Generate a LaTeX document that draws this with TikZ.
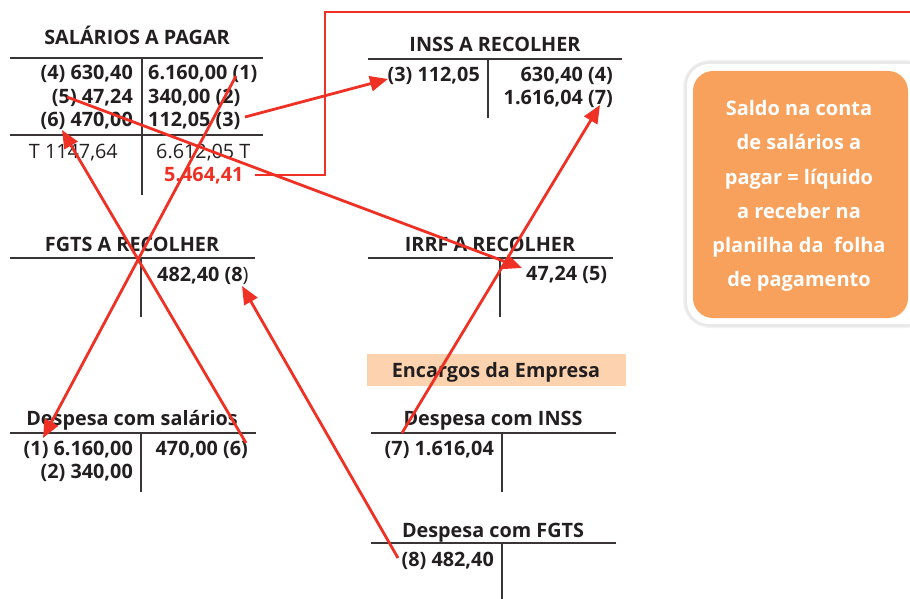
\documentclass[tikz,border=0pt]{standalone}
\usepackage{fontspec}
\setmainfont{Open Sans}
\usetikzlibrary{arrows.meta}
\definecolor{myred}{HTML}{EE3124}
\definecolor{ink}{HTML}{231F20}
\definecolor{orangebox}{HTML}{F7A15C}
\definecolor{peach}{HTML}{FCD3AE}
\begin{document}
\begin{tikzpicture}[x=1pt,y=-1pt,
  tline/.style={draw=ink!90,line width=1.5pt},
  txt/.style={font=\bfseries\fontsize{19.8}{22}\selectfont,text=ink,inner sep=0pt},
  ttl/.style={txt,anchor=base},
  lft/.style={txt,anchor=base east},
  rgt/.style={txt,anchor=base west},
  redline/.style={draw=myred,line width=2.8pt},
  redarrow/.style={redline,-{Triangle[length=18pt,width=15pt]}},
  boxtxt/.style={font=\bfseries\fontsize{20}{34.2}\selectfont,text=white,align=center,inner sep=0pt}
]
\useasboundingbox (0,0) rectangle (910,599);

% ---------- SALARIOS A PAGAR
\node[ttl] (t1) at (137,45) {SALÁRIOS A PAGAR};
\draw[tline] (10,58) -- (263,58);
\draw[tline] (10,135) -- (263,135);
\draw[tline] (142,58) -- (142,195);
\node[lft] (s4) at (133,80) {(4) 630,40};
\node[lft] (s5) at (133,104) {(5) 47,24};
\node[lft] (s6) at (133,127) {(6) 470,00};
\node[rgt] (s1) at (148,80) {6.160,00 (1)};
\node[rgt] (s2) at (148,104) {340,00 (2)};
\node[rgt] (s3) at (148,127) {112,05 (3)};
\node[txt,font=\fontsize{19.8}{22}\selectfont,anchor=base east] (sT1) at (118,158) {T 1147,64};
\node[txt,font=\fontsize{19.8}{22}\selectfont,anchor=base west] (sT2) at (156,158) {6.612,05 T};
\node[rgt,text=myred] (sal) at (164,181) {5.464,41};

% ---------- INSS A RECOLHER
\node[ttl] (t2) at (495,52) {INSS A RECOLHER};
\draw[tline] (368,59) -- (622,59);
\draw[tline] (488,59) -- (488,118);
\node[lft] (i3) at (480,82) {(3) 112,05};
\node[lft] (i4) at (613,82) {630,40 (4)};
\node[lft] (i7) at (613,105) {1.616,04 (7)};

% ---------- FGTS A RECOLHER
\node[ttl] (t3) at (132,251) {FGTS A RECOLHER};
\draw[tline] (10,258) -- (255,258);
\draw[tline] (141,258) -- (141,317);
\node[rgt] (f8) at (157,281) {482,40 (8\textmd{)}};

% ---------- IRRF A RECOLHER
\node[ttl] (t4) at (490,251) {IRRF A RECOLHER};
\draw[tline] (368,258) -- (613,258);
\draw[tline] (500,258) -- (500,317);
\node[rgt] (r5) at (526,280) {47,24 (5)};

% ---------- Encargos da Empresa
\fill[peach] (367,354) rectangle (626,386);
\node[ttl] (enc) at (496,377) {Encargos da Empresa};

% ---------- Despesa com salarios
\node[ttl] (t5) at (132,425) {Despesa com salários};
\draw[tline] (10,433) -- (256,433);
\draw[tline] (141,433) -- (141,492);
\node[lft] (d1) at (133,455) {(1) 6.160,00};
\node[lft] (d2) at (133,478) {(2) 340,00};
\node[lft] (d6) at (248,455) {470,00 (6)};

% ---------- Despesa com INSS
\node[ttl] (t6) at (493,425) {Despesa com INSS};
\draw[tline] (371,433) -- (616,433);
\draw[tline] (502,433) -- (502,492);
\node[lft] (e7) at (494,455) {(7) 1.616,04};

% ---------- Despesa com FGTS
\node[ttl] (t7) at (493,537) {Despesa com FGTS};
\draw[tline] (371,543) -- (616,543);
\draw[tline] (502,543) -- (502,599);
\node[lft] (g8) at (494,566) {(8) 482,40};

% ---------- orange note (white frame with soft shadow)
\draw[black!5,line width=6pt,rounded corners=24pt] (686,63) rectangle (930,325);
\draw[black!9,line width=3pt,rounded corners=23pt] (686,63) rectangle (930,325);
\fill[white,rounded corners=22pt] (687,64) rectangle (930,324);
\fill[orangebox,rounded corners=20pt] (693,71) rectangle (908,318);
\node[boxtxt] (note) at (799,196) {Saldo na conta\\de salários a\\pagar = líquido\\a receber na\\planilha da~ folha\\de pagamento};

% ---------- red connectors
\coordinate (a1s) at (236,76);  \coordinate (a1e) at (43,438);
\coordinate (a2s) at (246,443); \coordinate (a2e) at (62,130);
\coordinate (a3s) at (67,97);   \coordinate (a3e) at (522,268);
\coordinate (a4s) at (402,433); \coordinate (a4e) at (600,105);
\coordinate (a5s) at (398,558); \coordinate (a5e) at (242,286);
\coordinate (a6s) at (245,117); \coordinate (a6e) at (388,79);
\coordinate (p1) at (255,175);  \coordinate (p2) at (325,175);
\coordinate (p3) at (325,12);   \coordinate (p4) at (910,12);

\draw[redarrow] (a1s) -- (a1e);
\draw[redarrow] (a2s) -- (a2e);
\draw[redarrow] (a3s) -- (a3e);
\draw[redarrow] (a4s) -- (a4e);
\draw[redarrow] (a5s) -- (a5e);
\draw[redarrow] (a6s) -- (a6e);
\draw[redline] (p1) -- (p2) -- (p3) -- (p4);
\end{tikzpicture}
\end{document}
